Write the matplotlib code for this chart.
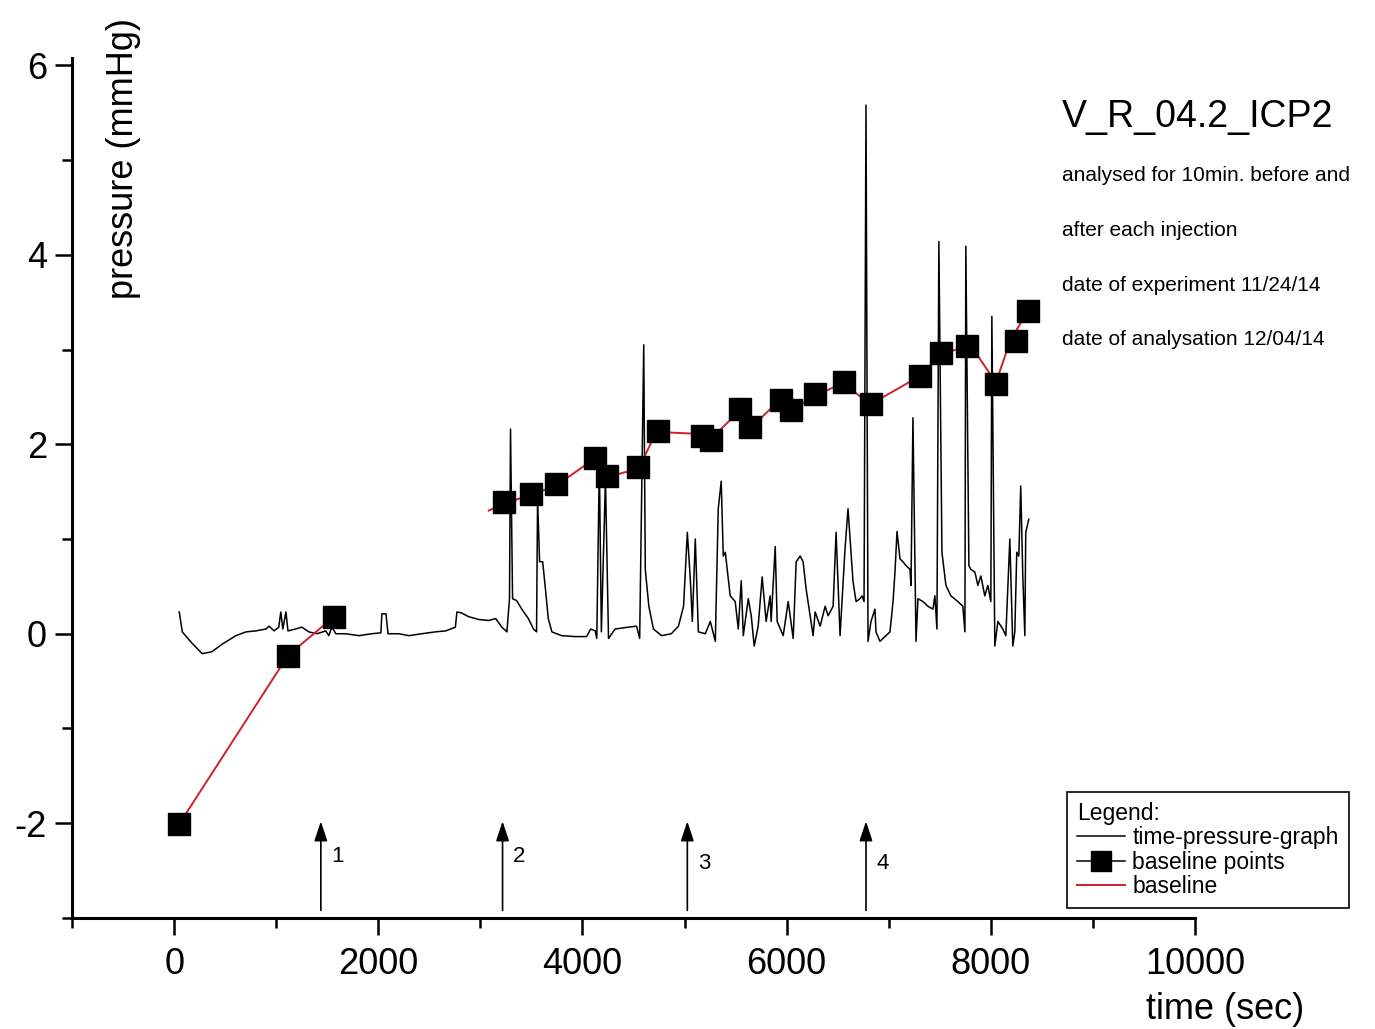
import matplotlib
matplotlib.use("Agg")
import matplotlib.pyplot as plt
import numpy as np
from matplotlib.lines import Line2D
from matplotlib.ticker import MultipleLocator

plt.rcParams['font.family'] = ['Liberation Sans', 'DejaVu Sans']
plt.rcParams['axes.unicode_minus'] = False

# time-pressure-graph (sec, mmHg)
trace_time = [50, 80, 175, 275, 370, 470, 605, 705, 800, 900, 930, 980, 1025, 1045, 1065, 1095, 1115,
              1190, 1250, 1320, 1400, 1485, 1515, 1545, 1585, 1680, 1810, 1935, 2025, 2035, 2075, 2095,
              2200, 2300, 2425, 2560, 2660, 2755, 2770, 2815, 2885, 2985, 3080, 3150, 3210, 3260, 3285,
              3295, 3315, 3355, 3405, 3470, 3520, 3550, 3560, 3580, 3610, 3640, 3665, 3700, 3795, 3930,
              4040, 4080, 4125, 4140, 4165, 4185, 4225, 4255, 4320, 4450, 4530, 4560, 4600, 4615, 4650,
              4695, 4775, 4870, 4940, 4990, 5027, 5055, 5076, 5105, 5135, 5203, 5252, 5301, 5330, 5359,
              5379, 5399, 5447, 5496, 5526, 5555, 5575, 5624, 5653, 5682, 5721, 5760, 5799, 5838, 5848,
              5888, 5907, 5966, 6015, 6064, 6093, 6132, 6161, 6191, 6230, 6259, 6279, 6328, 6377, 6406,
              6455, 6484, 6523, 6572, 6601, 6650, 6680, 6719, 6738, 6758, 6777, 6797, 6826, 6865, 6875,
              6914, 6993, 7012, 7042, 7061, 7081, 7110, 7139, 7169, 7208, 7218, 7237, 7267, 7286, 7335,
              7384, 7433, 7452, 7472, 7491, 7521, 7560, 7609, 7677, 7726, 7746, 7755, 7785, 7804, 7844,
              7873, 7902, 7941, 7971, 8000, 8010, 8039, 8069, 8117, 8147, 8186, 8215, 8235, 8254, 8274,
              8293, 8313, 8333, 8342, 8372]
trace_pressure = [0.23, 0.02, -0.10, -0.21, -0.19, -0.11, -0.02, 0.02, 0.03, 0.05, 0.08, 0.03, 0.07, 0.23,
                  0.05, 0.23, 0.03, 0.05, 0.07, 0.02, 0.0, 0.03, -0.02, 0.07, 0.0, 0.0, -0.02, 0.0, 0.01,
                  0.21, 0.21, 0.0, 0.0, -0.02, 0.0, 0.02, 0.03, 0.07, 0.23, 0.22, 0.18, 0.15, 0.14, 0.16,
                  0.07, 0.02, 0.37, 2.16, 0.37, 0.35, 0.26, 0.16, 0.05, 0.02, 1.42, 0.76, 0.76, 0.44, 0.16,
                  0.02, -0.02, -0.03, -0.03, 0.05, 0.03, -0.05, 1.80, 0.02, 1.63, -0.05, 0.05, 0.07, 0.08,
                  -0.05, 3.05, 0.68, 0.29, 0.05, -0.02, 0.0, 0.08, 0.29, 1.07, 0.60, 0.13, 1.0, 0.02, 0.0,
                  0.13, -0.08, 1.32, 1.61, 0.82, 0.86, 0.40, 0.34, 0.05, 0.56, -0.02, 0.37, 0.19, -0.13,
                  0.08, 0.60, 0.13, 0.40, 0.13, 0.92, 0.13, -0.02, 0.34, -0.05, 0.76, 0.82, 0.76, 0.47,
                  0.19, -0.02, 0.23, 0.08, 0.29, 0.19, 0.29, 1.07, -0.02, 0.90, 1.32, 0.55, 0.34, 0.37,
                  0.40, 0.34, 5.58, -0.08, 0.13, 0.26, 0.02, -0.08, 0.0, 0.02, 0.34, 0.65, 1.08, 0.79,
                  0.76, 0.72, 0.68, 0.51, 2.28, -0.08, 0.37, 0.34, 0.29, 0.26, 0.40, 0.05, 4.14, 0.86,
                  0.51, 0.40, 0.34, 0.29, 0.02, 4.09, 0.72, 0.68, 0.65, 0.51, 0.61, 0.40, 0.51, 0.34,
                  3.35, -0.13, 0.13, 0.05, -0.02, 1.0, -0.13, 0.02, 0.86, 0.82, 1.56, 0.61, -0.02, 1.07,
                  1.21]

# baseline points
point_time = [49, 1115, 1565, 3227, 3491, 3736, 4127, 4244, 4548, 4743, 5174, 5262, 5545, 5643, 5946,
              6044, 6279, 6562, 6826, 7306, 7511, 7765, 8049, 8245, 8362]
point_pressure = [-2.01, -0.23, 0.18, 1.39, 1.47, 1.58, 1.85, 1.67, 1.76, 2.14, 2.09, 2.05, 2.37, 2.18,
                  2.47, 2.36, 2.53, 2.66, 2.42, 2.72, 2.96, 3.04, 2.64, 3.09, 3.41]

# baseline (two separate pieces)
baseline_time = [49, 1115, 1565, np.nan, 3081, 3227, 3501, 3736, 4108, 4254, 4548, 4724, 5135, 5164,
                 5252, 5555, 5653, 5936, 6034, 6279, 6553, 6817, 7306, 7511, 7755, 7844, 8049, 8196, 8362]
baseline_pressure = [-2.01, -0.23, 0.18, np.nan, 1.30, 1.37, 1.47, 1.56, 1.84, 1.66, 1.74, 2.13, 2.11,
                     2.09, 2.05, 2.37, 2.18, 2.47, 2.35, 2.51, 2.65, 2.42, 2.72, 2.95, 3.03, 2.98, 2.65,
                     3.11, 3.40]

injection_time = [1437, 3217, 5027, 6777]
injection_labels = ['1', '2', '3', '4']

title = 'V_R_04.2_ICP2'
info_lines = ['analysed for 10min. before and', 'after each injection',
              'date of experiment 11/24/14', 'date of analysation 12/04/14']

fig = plt.figure(figsize=(13.75, 10.29), dpi=100)
ax = fig.add_axes([0.0524, 0.1079, 0.8167, 0.836])

ax.plot(trace_time, trace_pressure, color='black', lw=1.1)
ax.plot(baseline_time, baseline_pressure, color='#d0202a', lw=1.4)
ax.plot(point_time, point_pressure, ls='none', marker='s', ms=15.5, color='black')

for i, (t, lab) in enumerate(zip(injection_time, injection_labels)):
    ax.annotate('', xy=(t, -1.98), xytext=(t, -2.92),
                arrowprops=dict(arrowstyle='-|>,head_length=0.6,head_width=0.2',
                                color='black', lw=1.2, mutation_scale=20, shrinkA=0, shrinkB=0))
    ax.annotate(lab, xy=(t, -2.35 if i < 2 else -2.42), xytext=(12, 0), textcoords='offset points',
                ha='center', va='center', fontsize=16)

ax.set_xlim(-1000, 10000)
ax.set_ylim(-3, 6.08)
ax.xaxis.set_major_locator(MultipleLocator(2000))
ax.xaxis.set_minor_locator(MultipleLocator(1000))
ax.yaxis.set_major_locator(MultipleLocator(2))
ax.yaxis.set_minor_locator(MultipleLocator(1))
ax.tick_params(which='major', length=12, width=1.8, labelsize=26)
ax.tick_params(axis='x', which='major', pad=9)
ax.tick_params(axis='y', which='major', pad=6)
ax.tick_params(which='minor', length=7, width=1.8)
for side in ['top', 'right']:
    ax.spines[side].set_visible(False)
for side in ['left', 'bottom']:
    ax.spines[side].set_linewidth(2.2)

fig.text(0.0895, 0.8455, 'pressure (mmHg)', rotation=90, ha='center', va='center', fontsize=26)
fig.text(1225 / 1375, 0.0185, 'time (sec)', ha='center', va='center', fontsize=26)

fig.text(0.7724, 0.8863, title, ha='left', va='center', fontsize=27)
for i, line in enumerate(info_lines):
    fig.text(0.7724, 0.829 - i * 0.053, line, ha='left', va='center', fontsize=15)

handles = [Line2D([], [], color='black', lw=1.1),
           Line2D([], [], color='black', lw=1.1, marker='s', ms=15),
           Line2D([], [], color='#d0202a', lw=1.4)]
labels = ['time-pressure-graph', 'baseline points', 'baseline']
leg = fig.legend(handles, labels, title='Legend:', loc='lower left',
                 bbox_to_anchor=(1067 / 1375, 121 / 1029), fontsize=16.5, title_fontsize=16.5,
                 frameon=True, fancybox=False, edgecolor='black', framealpha=1,
                 handlelength=2.1, handletextpad=0.3, labelspacing=0.05,
                 borderpad=0.45, borderaxespad=0, alignment='left')
leg.get_frame().set_linewidth(1.2)

fig.savefig('out.png', dpi=100)
